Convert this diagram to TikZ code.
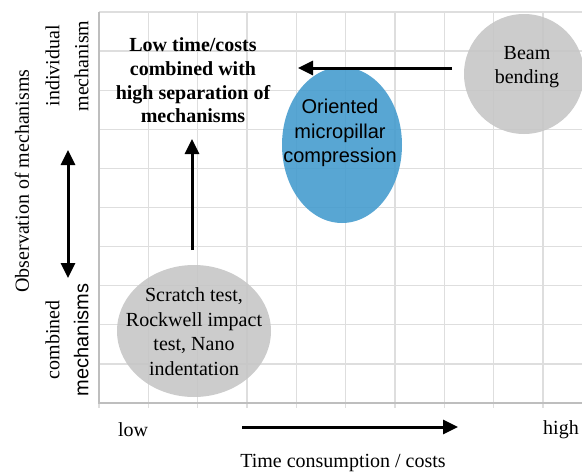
\documentclass[tikz,border=0pt]{standalone}
\usepackage{fontspec}
\setmainfont{Liberation Serif}
\setsansfont{Liberation Sans}
\usetikzlibrary{shapes.geometric,arrows.meta}

\definecolor{gridgray}{RGB}{222,222,222}
\definecolor{axisgray}{RGB}{190,190,190}
\definecolor{blobgray}{RGB}{198,198,198}
\definecolor{pillarblue}{RGB}{70,156,206}

\tikzset{
  gridline/.style={draw=gridgray, line width=1.3pt},
  axisline/.style={draw=axisgray, line width=1.5pt},
  blob/.style={ellipse, inner sep=0pt, align=center, fill opacity=0.9, text opacity=1},
  bigarrow/.style={line width=3pt, -{Triangle[length=15pt,width=14pt]}},
  twoarrow/.style={line width=3pt, {Triangle[length=15pt,width=14pt]}-{Triangle[length=15pt,width=14pt]}},
  lbl/.style={inner sep=0pt, align=center},
}

\begin{document}
\begin{tikzpicture}[x=1pt, y=-1pt, font=\fontsize{20}{24.5}\selectfont]
\useasboundingbox (0,0) rectangle (582,474);
\begin{scope}
\clip (0,0) rectangle (582,474);

% chart grid
\foreach \i in {0,...,10} {
  \draw[gridline] ({99+49.33*\i},12) -- ({99+49.33*\i},408);
}
\foreach \j in {0,...,10} {
  \draw[gridline] (99,{12+39.1*\j}) -- (600,{12+39.1*\j});
}
\draw[axisline] (99,12) -- (99,403) -- (600,403);

% methods
\node[blob, fill=blobgray, minimum width=120pt, minimum height=120pt]
  (beam) at (524,74) {};
\node[lbl] (beamtxt) at (527,67) {Beam\\bending};

\node[blob, fill=pillarblue, minimum width=120pt, minimum height=156pt]
  (pillar) at (342,145) {};
\node[lbl, font=\sffamily\fontsize{20}{24.5}\selectfont] (pillartxt) at (340,133)
  {Oriented\\micropillar\\compression};

\node[blob, fill=blobgray, minimum width=154pt, minimum height=132pt]
  (scratch) at (194,331) {};
\node[lbl] (scratchtxt) at (194,331.5)
  {Scratch test,\\Rockwell impact\\test, Nano\\indentation};
\end{scope}

% target region
\node[lbl, font=\bfseries\fontsize{20}{23.7}\selectfont] (goal) at (193,80.5)
  {Low time/costs\\combined with\\high separation of\\mechanisms};

% trend arrows
\coordinate (upA) at (192,250);
\coordinate (upB) at (192,139);
\draw[bigarrow] (upA) -- (upB);
\coordinate (leftA) at (452,68);
\coordinate (leftB) at (298,68);
\draw[bigarrow] (leftA) -- (leftB);

% horizontal axis
\node[lbl] (low) at (133,430) {low};
\node[lbl] (high) at (561,430) {high};
\coordinate (xA) at (242,427);
\coordinate (xB) at (458,427);
\draw[bigarrow] (xA) -- (xB);
\node[lbl] (xlabel) at (343,463) {Time consumption / costs};

% vertical axis
\node[lbl, rotate=90] (ylabel) at (22,181) {Observation of mechanisms};
\coordinate (yA) at (68,150);
\coordinate (yB) at (68,278);
\draw[twoarrow] (yA) -- (yB);
\node[lbl, rotate=90, font=\fontsize{20}{29}\selectfont] (indiv) at (67,66)
  {individual\\mechanism};
\node[lbl, rotate=90, font=\fontsize{20}{29}\selectfont] (comb) at (67,340)
  {combined\\\sffamily mechanisms};
\end{tikzpicture}
\end{document}
